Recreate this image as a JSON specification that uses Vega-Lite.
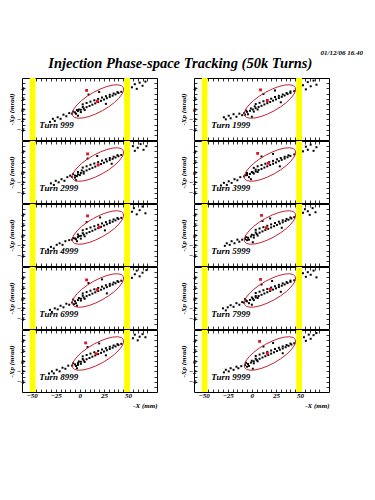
{
"$schema": "https://vega.github.io/schema/vega-lite/v6.json",
"padding": {"left": 6, "top": 48, "right": 0, "bottom": 0},
"background": "white",
"title": {"text": "01/12/06  16.40", "anchor": "end", "dx": 33, "fontSize": 7, "font": "Liberation Serif", "fontStyle": "italic", "fontWeight": "bold", "color": "black", "offset": 0},
"datasets": {
"ap": [{"x1": -52, "x2": -46}, {"x1": 46, "x2": 52}],
"ell": [
{"o":0,"x":45.05,"y":4.16},{"o":1,"x":45.3,"y":3.6},{"o":2,"x":43.74,"y":2.9},{"o":3,"x":40.47,"y":2.1},{"o":4,"x":35.74,"y":1.25},{"o":5,"x":29.84,"y":0.42},{"o":6,"x":23.18,"y":-0.34},{"o":7,"x":16.22,"y":-0.98},{"o":8,"x":9.44,"y":-1.46},{"o":9,"x":3.29,"y":-1.73},{"o":10,"x":-1.81,"y":-1.79},{"o":11,"x":-5.51,"y":-1.63},{"o":12,"x":-7.55,"y":-1.26},{"o":13,"x":-7.81,"y":-0.7},{"o":14,"x":-6.25,"y":0.0},{"o":15,"x":-2.97,"y":0.8},{"o":16,"x":1.76,"y":1.65},{"o":17,"x":7.66,"y":2.48},{"o":18,"x":14.32,"y":3.24},{"o":19,"x":21.28,"y":3.88},{"o":20,"x":28.06,"y":4.36},{"o":21,"x":34.21,"y":4.63},{"o":22,"x":39.31,"y":4.69},{"o":23,"x":43.01,"y":4.53},{"o":24,"x":45.05,"y":4.16}
],
"red": [
{"t":999,"x":18,"y":1.5},{"t":999,"x":7,"y":3.6},
{"t":1999,"x":16,"y":1.6},{"t":1999,"x":9,"y":3.7},
{"t":2999,"x":19,"y":1.4},{"t":2999,"x":8,"y":3.5},
{"t":3999,"x":17,"y":1.7},{"t":3999,"x":6,"y":3.6},
{"t":4999,"x":20,"y":1.5},{"t":4999,"x":8,"y":3.7},
{"t":5999,"x":15,"y":1.4},{"t":5999,"x":10,"y":3.8},
{"t":6999,"x":18,"y":1.6},{"t":6999,"x":7,"y":3.5},
{"t":7999,"x":19,"y":1.7},{"t":7999,"x":9,"y":3.6},
{"t":8999,"x":17,"y":1.4},{"t":8999,"x":6,"y":3.5},
{"t":9999,"x":16,"y":1.5},{"t":9999,"x":8,"y":3.8}
],
"pts": [
{"t":999,"x":-31,"y":-2.5},{"t":999,"x":-28,"y":-1.9},{"t":999,"x":-26,"y":-2.3},{"t":999,"x":-23,"y":-1.6},{"t":999,"x":-20,"y":-1.9},{"t":999,"x":-17,"y":-1.1},{"t":999,"x":-14,"y":-1.4},{"t":999,"x":-11,"y":-0.8},
{"t":999,"x":-8,"y":-0.9},{"t":999,"x":-5,"y":-0.65},{"t":999,"x":-2,"y":-0.4},{"t":999,"x":1,"y":-0.15},{"t":999,"x":4,"y":0.1},{"t":999,"x":7,"y":0.35},{"t":999,"x":10,"y":0.59},{"t":999,"x":13,"y":0.84},{"t":999,"x":16,"y":1.09},{"t":999,"x":19,"y":1.34},{"t":999,"x":22,"y":1.59},{"t":999,"x":25,"y":1.84},{"t":999,"x":28,"y":2.09},{"t":999,"x":31,"y":2.34},{"t":999,"x":34,"y":2.59},{"t":999,"x":37,"y":2.84},{"t":999,"x":40,"y":3.09},{"t":999,"x":43,"y":3.33},
{"t":999,"x":-7,"y":-0.5},{"t":999,"x":-4,"y":-0.9},{"t":999,"x":-1,"y":-0.1},{"t":999,"x":1,"y":-0.6},{"t":999,"x":3,"y":0.4},{"t":999,"x":5,"y":-0.2},{"t":999,"x":-3,"y":-0.2},
{"t":999,"x":3,"y":0.9},{"t":999,"x":7,"y":1.16},{"t":999,"x":11,"y":1.43},{"t":999,"x":15,"y":1.69},{"t":999,"x":19,"y":1.95},{"t":999,"x":23,"y":2.22},{"t":999,"x":27,"y":2.48},{"t":999,"x":31,"y":2.75},{"t":999,"x":35,"y":3.0},{"t":999,"x":39,"y":3.27},
{"t":999,"x":54,"y":4.2},{"t":999,"x":57,"y":4.8},{"t":999,"x":59,"y":3.9},{"t":999,"x":62,"y":5.1},{"t":999,"x":65,"y":4.5},{"t":999,"x":68,"y":5.3},
{"t":999,"x":9,"y":2.8},{"t":999,"x":27,"y":1.0},{"t":999,"x":20,"y":3.3},{"t":999,"x":-2,"y":-1.3},

{"t":1999,"x":-29,"y":-1.6},{"t":1999,"x":-27,"y":-2.0},{"t":1999,"x":-24,"y":-1.3},{"t":1999,"x":-22,"y":-1.8},{"t":1999,"x":-19,"y":-1.0},{"t":1999,"x":-16,"y":-1.5},{"t":1999,"x":-13,"y":-0.9},{"t":1999,"x":-10,"y":-1.2},
{"t":1999,"x":-8,"y":-0.8},{"t":1999,"x":-5,"y":-0.55},{"t":1999,"x":-2,"y":-0.35},{"t":1999,"x":1,"y":-0.1},{"t":1999,"x":4,"y":0.15},{"t":1999,"x":7,"y":0.4},{"t":1999,"x":10,"y":0.62},{"t":1999,"x":13,"y":0.88},{"t":1999,"x":16,"y":1.12},{"t":1999,"x":19,"y":1.36},{"t":1999,"x":22,"y":1.62},{"t":1999,"x":25,"y":1.86},{"t":1999,"x":28,"y":2.12},{"t":1999,"x":31,"y":2.36},{"t":1999,"x":34,"y":2.62},{"t":1999,"x":37,"y":2.88},{"t":1999,"x":40,"y":3.12},{"t":1999,"x":44,"y":3.45},
{"t":1999,"x":-6,"y":-0.3},{"t":1999,"x":-4,"y":-1.0},{"t":1999,"x":-1,"y":0.1},{"t":1999,"x":2,"y":-0.5},{"t":1999,"x":3,"y":0.5},{"t":1999,"x":6,"y":-0.1},{"t":1999,"x":-7,"y":-1.1},
{"t":1999,"x":4,"y":0.95},{"t":1999,"x":8,"y":1.2},{"t":1999,"x":12,"y":1.5},{"t":1999,"x":16,"y":1.75},{"t":1999,"x":20,"y":2.0},{"t":1999,"x":24,"y":2.3},{"t":1999,"x":28,"y":2.55},{"t":1999,"x":32,"y":2.8},{"t":1999,"x":36,"y":3.1},{"t":1999,"x":40,"y":3.4},
{"t":1999,"x":53,"y":4.6},{"t":1999,"x":56,"y":3.8},{"t":1999,"x":58,"y":5.2},{"t":1999,"x":61,"y":4.4},{"t":1999,"x":64,"y":5.5},{"t":1999,"x":67,"y":4.7},
{"t":1999,"x":12,"y":2.9},{"t":1999,"x":30,"y":1.3},{"t":1999,"x":24,"y":3.6},{"t":1999,"x":0,"y":-1.5},

{"t":2999,"x":-30,"y":-2.2},{"t":2999,"x":-27,"y":-2.5},{"t":2999,"x":-25,"y":-1.7},{"t":2999,"x":-22,"y":-2.0},{"t":2999,"x":-19,"y":-1.4},{"t":2999,"x":-16,"y":-1.7},{"t":2999,"x":-13,"y":-1.0},{"t":2999,"x":-10,"y":-0.7},
{"t":2999,"x":-8,"y":-0.95},{"t":2999,"x":-5,"y":-0.7},{"t":2999,"x":-2,"y":-0.45},{"t":2999,"x":1,"y":-0.2},{"t":2999,"x":4,"y":0.05},{"t":2999,"x":7,"y":0.3},{"t":2999,"x":10,"y":0.55},{"t":2999,"x":13,"y":0.8},{"t":2999,"x":16,"y":1.05},{"t":2999,"x":19,"y":1.3},{"t":2999,"x":22,"y":1.55},{"t":2999,"x":25,"y":1.8},{"t":2999,"x":28,"y":2.05},{"t":2999,"x":31,"y":2.3},{"t":2999,"x":34,"y":2.55},{"t":2999,"x":37,"y":2.8},{"t":2999,"x":40,"y":3.05},{"t":2999,"x":43,"y":3.3},
{"t":2999,"x":-7,"y":-0.4},{"t":2999,"x":-5,"y":-1.1},{"t":2999,"x":-2,"y":0.0},{"t":2999,"x":0,"y":-0.6},{"t":2999,"x":2,"y":0.3},{"t":2999,"x":4,"y":-0.3},{"t":2999,"x":-3,"y":-0.8},
{"t":2999,"x":3,"y":0.85},{"t":2999,"x":7,"y":1.1},{"t":2999,"x":11,"y":1.4},{"t":2999,"x":15,"y":1.65},{"t":2999,"x":19,"y":1.9},{"t":2999,"x":23,"y":2.2},{"t":2999,"x":27,"y":2.45},{"t":2999,"x":31,"y":2.7},{"t":2999,"x":35,"y":2.95},{"t":2999,"x":39,"y":3.25},
{"t":2999,"x":55,"y":5.0},{"t":2999,"x":57,"y":4.1},{"t":2999,"x":60,"y":4.7},{"t":2999,"x":63,"y":5.4},{"t":2999,"x":66,"y":4.3},{"t":2999,"x":69,"y":5.0},
{"t":2999,"x":8,"y":2.6},{"t":2999,"x":33,"y":1.6},{"t":2999,"x":18,"y":3.1},{"t":2999,"x":-4,"y":-1.6},

{"t":3999,"x":-32,"y":-2.6},{"t":3999,"x":-29,"y":-2.1},{"t":3999,"x":-26,"y":-2.5},{"t":3999,"x":-24,"y":-1.8},{"t":3999,"x":-21,"y":-2.1},{"t":3999,"x":-18,"y":-1.4},{"t":3999,"x":-15,"y":-1.6},{"t":3999,"x":-12,"y":-1.0},
{"t":3999,"x":-8,"y":-0.85},{"t":3999,"x":-5,"y":-0.6},{"t":3999,"x":-2,"y":-0.38},{"t":3999,"x":1,"y":-0.12},{"t":3999,"x":4,"y":0.12},{"t":3999,"x":7,"y":0.38},{"t":3999,"x":10,"y":0.6},{"t":3999,"x":13,"y":0.86},{"t":3999,"x":16,"y":1.1},{"t":3999,"x":19,"y":1.36},{"t":3999,"x":22,"y":1.6},{"t":3999,"x":25,"y":1.85},{"t":3999,"x":28,"y":2.1},{"t":3999,"x":31,"y":2.35},{"t":3999,"x":34,"y":2.6},{"t":3999,"x":37,"y":2.86},{"t":3999,"x":40,"y":3.1},{"t":3999,"x":44,"y":3.4},
{"t":3999,"x":-6,"y":-0.6},{"t":3999,"x":-3,"y":-1.0},{"t":3999,"x":0,"y":0.0},{"t":3999,"x":2,"y":-0.3},{"t":3999,"x":4,"y":0.45},{"t":3999,"x":6,"y":0.0},{"t":3999,"x":-5,"y":-0.2},
{"t":3999,"x":2,"y":0.8},{"t":3999,"x":6,"y":1.1},{"t":3999,"x":10,"y":1.35},{"t":3999,"x":14,"y":1.6},{"t":3999,"x":18,"y":1.9},{"t":3999,"x":22,"y":2.15},{"t":3999,"x":26,"y":2.45},{"t":3999,"x":30,"y":2.7},{"t":3999,"x":34,"y":2.95},{"t":3999,"x":38,"y":3.25},
{"t":3999,"x":53,"y":4.0},{"t":3999,"x":56,"y":4.9},{"t":3999,"x":58,"y":4.3},{"t":3999,"x":61,"y":5.3},{"t":3999,"x":64,"y":4.1},{"t":3999,"x":67,"y":4.8},
{"t":3999,"x":10,"y":3.0},{"t":3999,"x":29,"y":1.1},{"t":3999,"x":22,"y":3.5},{"t":3999,"x":-1,"y":-1.4},

{"t":4999,"x":-33,"y":-2.8},{"t":4999,"x":-30,"y":-2.3},{"t":4999,"x":-27,"y":-2.6},{"t":4999,"x":-24,"y":-1.9},{"t":4999,"x":-21,"y":-1.6},{"t":4999,"x":-18,"y":-1.9},{"t":4999,"x":-15,"y":-1.2},{"t":4999,"x":-11,"y":-1.0},
{"t":4999,"x":-8,"y":-0.92},{"t":4999,"x":-5,"y":-0.66},{"t":4999,"x":-2,"y":-0.42},{"t":4999,"x":1,"y":-0.16},{"t":4999,"x":4,"y":0.08},{"t":4999,"x":7,"y":0.34},{"t":4999,"x":10,"y":0.58},{"t":4999,"x":13,"y":0.83},{"t":4999,"x":16,"y":1.08},{"t":4999,"x":19,"y":1.33},{"t":4999,"x":22,"y":1.58},{"t":4999,"x":25,"y":1.83},{"t":4999,"x":28,"y":2.08},{"t":4999,"x":31,"y":2.33},{"t":4999,"x":34,"y":2.58},{"t":4999,"x":37,"y":2.83},{"t":4999,"x":40,"y":3.08},{"t":4999,"x":43,"y":3.32},
{"t":4999,"x":-7,"y":-0.6},{"t":4999,"x":-4,"y":-0.8},{"t":4999,"x":-1,"y":-0.2},{"t":4999,"x":1,"y":-0.7},{"t":4999,"x":3,"y":0.35},{"t":4999,"x":5,"y":-0.25},{"t":4999,"x":-2,"y":0.1},
{"t":4999,"x":3,"y":0.92},{"t":4999,"x":7,"y":1.18},{"t":4999,"x":11,"y":1.45},{"t":4999,"x":15,"y":1.7},{"t":4999,"x":19,"y":1.97},{"t":4999,"x":23,"y":2.24},{"t":4999,"x":27,"y":2.5},{"t":4999,"x":31,"y":2.77},{"t":4999,"x":35,"y":3.02},{"t":4999,"x":39,"y":3.3},
{"t":4999,"x":54,"y":4.5},{"t":4999,"x":56,"y":5.2},{"t":4999,"x":59,"y":4.0},{"t":4999,"x":62,"y":4.8},{"t":4999,"x":65,"y":5.5},{"t":4999,"x":68,"y":4.2},
{"t":4999,"x":7,"y":2.5},{"t":4999,"x":26,"y":0.9},{"t":4999,"x":21,"y":3.4},{"t":4999,"x":-3,"y":-1.2},

{"t":5999,"x":-28,"y":-2.1},{"t":5999,"x":-26,"y":-1.6},{"t":5999,"x":-23,"y":-1.9},{"t":5999,"x":-21,"y":-1.2},{"t":5999,"x":-18,"y":-1.6},{"t":5999,"x":-15,"y":-0.9},{"t":5999,"x":-13,"y":-1.3},{"t":5999,"x":-10,"y":-0.9},
{"t":5999,"x":-7,"y":-0.8},{"t":5999,"x":-4,"y":-0.55},{"t":5999,"x":-1,"y":-0.3},{"t":5999,"x":2,"y":-0.05},{"t":5999,"x":5,"y":0.2},{"t":5999,"x":8,"y":0.45},{"t":5999,"x":11,"y":0.7},{"t":5999,"x":14,"y":0.95},{"t":5999,"x":17,"y":1.2},{"t":5999,"x":20,"y":1.45},{"t":5999,"x":23,"y":1.7},{"t":5999,"x":26,"y":1.95},{"t":5999,"x":29,"y":2.2},{"t":5999,"x":32,"y":2.45},{"t":5999,"x":35,"y":2.7},{"t":5999,"x":38,"y":2.95},{"t":5999,"x":41,"y":3.2},{"t":5999,"x":44,"y":3.45},
{"t":5999,"x":-6,"y":-0.4},{"t":5999,"x":-3,"y":-0.9},{"t":5999,"x":0,"y":0.05},{"t":5999,"x":2,"y":-0.5},{"t":5999,"x":4,"y":0.5},{"t":5999,"x":6,"y":-0.1},{"t":5999,"x":-5,"y":-1.0},
{"t":5999,"x":4,"y":1.0},{"t":5999,"x":8,"y":1.25},{"t":5999,"x":12,"y":1.52},{"t":5999,"x":16,"y":1.78},{"t":5999,"x":20,"y":2.05},{"t":5999,"x":24,"y":2.3},{"t":5999,"x":28,"y":2.58},{"t":5999,"x":32,"y":2.85},{"t":5999,"x":36,"y":3.1},{"t":5999,"x":40,"y":3.38},
{"t":5999,"x":53,"y":4.3},{"t":5999,"x":55,"y":5.0},{"t":5999,"x":58,"y":4.6},{"t":5999,"x":60,"y":3.9},{"t":5999,"x":63,"y":5.2},{"t":5999,"x":66,"y":4.4},
{"t":5999,"x":11,"y":2.7},{"t":5999,"x":31,"y":1.4},{"t":5999,"x":19,"y":3.2},{"t":5999,"x":1,"y":-1.4},

{"t":6999,"x":-31,"y":-2.3},{"t":6999,"x":-29,"y":-2.7},{"t":6999,"x":-26,"y":-2.0},{"t":6999,"x":-23,"y":-2.2},{"t":6999,"x":-20,"y":-1.5},{"t":6999,"x":-17,"y":-1.8},{"t":6999,"x":-14,"y":-1.1},{"t":6999,"x":-11,"y":-1.3},
{"t":6999,"x":-8,"y":-0.88},{"t":6999,"x":-5,"y":-0.63},{"t":6999,"x":-2,"y":-0.4},{"t":6999,"x":1,"y":-0.14},{"t":6999,"x":4,"y":0.1},{"t":6999,"x":7,"y":0.36},{"t":6999,"x":10,"y":0.6},{"t":6999,"x":13,"y":0.85},{"t":6999,"x":16,"y":1.1},{"t":6999,"x":19,"y":1.35},{"t":6999,"x":22,"y":1.6},{"t":6999,"x":25,"y":1.85},{"t":6999,"x":28,"y":2.1},{"t":6999,"x":31,"y":2.35},{"t":6999,"x":34,"y":2.6},{"t":6999,"x":37,"y":2.85},{"t":6999,"x":40,"y":3.1},{"t":6999,"x":43,"y":3.35},
{"t":6999,"x":-7,"y":-0.3},{"t":6999,"x":-4,"y":-1.0},{"t":6999,"x":-1,"y":0.0},{"t":6999,"x":1,"y":-0.5},{"t":6999,"x":3,"y":0.45},{"t":6999,"x":5,"y":-0.15},{"t":6999,"x":-6,"y":-1.2},
{"t":6999,"x":3,"y":0.88},{"t":6999,"x":7,"y":1.15},{"t":6999,"x":11,"y":1.42},{"t":6999,"x":15,"y":1.68},{"t":6999,"x":19,"y":1.94},{"t":6999,"x":23,"y":2.2},{"t":6999,"x":27,"y":2.47},{"t":6999,"x":31,"y":2.74},{"t":6999,"x":35,"y":3.0},{"t":6999,"x":39,"y":3.28},
{"t":6999,"x":54,"y":3.9},{"t":6999,"x":57,"y":4.6},{"t":6999,"x":59,"y":5.3},{"t":6999,"x":62,"y":4.2},{"t":6999,"x":65,"y":4.9},{"t":6999,"x":69,"y":5.4},
{"t":6999,"x":9,"y":2.9},{"t":6999,"x":28,"y":0.9},{"t":6999,"x":23,"y":3.6},{"t":6999,"x":-3,"y":-1.5},

{"t":7999,"x":-30,"y":-2.0},{"t":7999,"x":-27,"y":-2.4},{"t":7999,"x":-25,"y":-1.8},{"t":7999,"x":-22,"y":-1.4},{"t":7999,"x":-19,"y":-1.7},{"t":7999,"x":-16,"y":-1.0},{"t":7999,"x":-13,"y":-1.3},{"t":7999,"x":-10,"y":-0.8},
{"t":7999,"x":-8,"y":-0.9},{"t":7999,"x":-5,"y":-0.64},{"t":7999,"x":-2,"y":-0.38},{"t":7999,"x":1,"y":-0.13},{"t":7999,"x":4,"y":0.12},{"t":7999,"x":7,"y":0.37},{"t":7999,"x":10,"y":0.62},{"t":7999,"x":13,"y":0.87},{"t":7999,"x":16,"y":1.12},{"t":7999,"x":19,"y":1.37},{"t":7999,"x":22,"y":1.62},{"t":7999,"x":25,"y":1.87},{"t":7999,"x":28,"y":2.12},{"t":7999,"x":31,"y":2.37},{"t":7999,"x":34,"y":2.62},{"t":7999,"x":37,"y":2.87},{"t":7999,"x":40,"y":3.12},{"t":7999,"x":44,"y":3.42},
{"t":7999,"x":-6,"y":-0.5},{"t":7999,"x":-3,"y":-1.0},{"t":7999,"x":0,"y":0.1},{"t":7999,"x":2,"y":-0.4},{"t":7999,"x":4,"y":0.4},{"t":7999,"x":6,"y":0.0},{"t":7999,"x":-7,"y":-0.2},
{"t":7999,"x":4,"y":0.97},{"t":7999,"x":8,"y":1.22},{"t":7999,"x":12,"y":1.5},{"t":7999,"x":16,"y":1.76},{"t":7999,"x":20,"y":2.02},{"t":7999,"x":24,"y":2.28},{"t":7999,"x":28,"y":2.55},{"t":7999,"x":32,"y":2.82},{"t":7999,"x":36,"y":3.08},{"t":7999,"x":40,"y":3.36},
{"t":7999,"x":53,"y":4.8},{"t":7999,"x":56,"y":4.1},{"t":7999,"x":58,"y":5.0},{"t":7999,"x":61,"y":4.5},{"t":7999,"x":64,"y":5.3},{"t":7999,"x":67,"y":4.0},
{"t":7999,"x":10,"y":2.6},{"t":7999,"x":30,"y":1.2},{"t":7999,"x":21,"y":3.3},{"t":7999,"x":0,"y":-1.3},

{"t":8999,"x":-32,"y":-2.4},{"t":8999,"x":-29,"y":-2.0},{"t":8999,"x":-27,"y":-2.4},{"t":8999,"x":-24,"y":-1.7},{"t":8999,"x":-21,"y":-2.0},{"t":8999,"x":-18,"y":-1.3},{"t":8999,"x":-15,"y":-1.5},{"t":8999,"x":-12,"y":-0.9},
{"t":8999,"x":-8,"y":-0.9},{"t":8999,"x":-5,"y":-0.66},{"t":8999,"x":-2,"y":-0.41},{"t":8999,"x":1,"y":-0.15},{"t":8999,"x":4,"y":0.09},{"t":8999,"x":7,"y":0.34},{"t":8999,"x":10,"y":0.58},{"t":8999,"x":13,"y":0.84},{"t":8999,"x":16,"y":1.08},{"t":8999,"x":19,"y":1.33},{"t":8999,"x":22,"y":1.58},{"t":8999,"x":25,"y":1.83},{"t":8999,"x":28,"y":2.08},{"t":8999,"x":31,"y":2.33},{"t":8999,"x":34,"y":2.58},{"t":8999,"x":37,"y":2.83},{"t":8999,"x":40,"y":3.08},{"t":8999,"x":43,"y":3.32},
{"t":8999,"x":-7,"y":-0.45},{"t":8999,"x":-4,"y":-0.95},{"t":8999,"x":-1,"y":-0.1},{"t":8999,"x":1,"y":-0.55},{"t":8999,"x":3,"y":0.38},{"t":8999,"x":5,"y":-0.2},{"t":8999,"x":-2,"y":-0.75},
{"t":8999,"x":3,"y":0.9},{"t":8999,"x":7,"y":1.16},{"t":8999,"x":11,"y":1.43},{"t":8999,"x":15,"y":1.69},{"t":8999,"x":19,"y":1.95},{"t":8999,"x":23,"y":2.22},{"t":8999,"x":27,"y":2.48},{"t":8999,"x":31,"y":2.75},{"t":8999,"x":35,"y":3.0},{"t":8999,"x":39,"y":3.27},
{"t":8999,"x":55,"y":4.4},{"t":8999,"x":57,"y":5.1},{"t":8999,"x":60,"y":4.0},{"t":8999,"x":62,"y":4.7},{"t":8999,"x":65,"y":5.2},{"t":8999,"x":68,"y":4.6},
{"t":8999,"x":8,"y":2.7},{"t":8999,"x":27,"y":1.1},{"t":8999,"x":20,"y":3.4},{"t":8999,"x":-3,"y":-1.4},

{"t":9999,"x":-29,"y":-2.2},{"t":9999,"x":-27,"y":-1.7},{"t":9999,"x":-24,"y":-2.0},{"t":9999,"x":-22,"y":-1.4},{"t":9999,"x":-19,"y":-1.7},{"t":9999,"x":-16,"y":-1.1},{"t":9999,"x":-14,"y":-1.4},{"t":9999,"x":-11,"y":-1.0},
{"t":9999,"x":-7,"y":-0.82},{"t":9999,"x":-4,"y":-0.57},{"t":9999,"x":-1,"y":-0.32},{"t":9999,"x":2,"y":-0.07},{"t":9999,"x":5,"y":0.18},{"t":9999,"x":8,"y":0.43},{"t":9999,"x":11,"y":0.68},{"t":9999,"x":14,"y":0.93},{"t":9999,"x":17,"y":1.18},{"t":9999,"x":20,"y":1.43},{"t":9999,"x":23,"y":1.68},{"t":9999,"x":26,"y":1.93},{"t":9999,"x":29,"y":2.18},{"t":9999,"x":32,"y":2.43},{"t":9999,"x":35,"y":2.68},{"t":9999,"x":38,"y":2.93},{"t":9999,"x":41,"y":3.18},{"t":9999,"x":44,"y":3.43},
{"t":9999,"x":-6,"y":-0.35},{"t":9999,"x":-3,"y":-0.95},{"t":9999,"x":0,"y":0.05},{"t":9999,"x":2,"y":-0.45},{"t":9999,"x":4,"y":0.45},{"t":9999,"x":6,"y":-0.05},{"t":9999,"x":-5,"y":-1.1},
{"t":9999,"x":4,"y":0.98},{"t":9999,"x":8,"y":1.24},{"t":9999,"x":12,"y":1.5},{"t":9999,"x":16,"y":1.77},{"t":9999,"x":20,"y":2.03},{"t":9999,"x":24,"y":2.3},{"t":9999,"x":28,"y":2.56},{"t":9999,"x":32,"y":2.83},{"t":9999,"x":36,"y":3.1},{"t":9999,"x":40,"y":3.37},
{"t":9999,"x":54,"y":4.6},{"t":9999,"x":56,"y":3.9},{"t":9999,"x":59,"y":5.1},{"t":9999,"x":61,"y":4.3},{"t":9999,"x":64,"y":5.0},{"t":9999,"x":67,"y":5.4},
{"t":9999,"x":12,"y":2.8},{"t":9999,"x":32,"y":1.5},{"t":9999,"x":22,"y":3.5},{"t":9999,"x":1,"y":-1.5}
]
},
"vconcat": [{
"title": {"text": "Injection Phase-space Tracking (50k Turns)", "anchor": "middle", "dx": 12, "fontSize": 14.5, "font": "Liberation Serif", "fontStyle": "italic", "fontWeight": "bold", "color": "black", "offset": 6},
"spacing": 20,
"hconcat": [
{"spacing": -2, "vconcat": [
{"width":135,"height":62,"resolve":{"axis":{"x":"independent","y":"independent"}},"layer":[
{"data":{"name":"ap"},"mark":{"type":"rect","color":"#ffff00"},"encoding":{"x":{"field":"x1","type":"quantitative","scale":{"domain":[-52,72]},"axis":null},"x2":{"field":"x2"}}},
{"data":{"name":"pts"},"transform":[{"filter":"datum.t == 999"}],"mark":{"type":"square","size":4,"color":"black","opacity":1},"encoding":{"x":{"field":"x","type":"quantitative","scale":{"domain":[-52,72]},"axis":{"orient":"bottom","values":[-50,-45,-40,-35,-30,-25,-20,-15,-10,-5,0,5,10,15,20,25,30,35,40,45,50,55,60,65,70],"labels":false,"title":null,"maxExtent":0}},"y":{"field":"y","type":"quantitative","scale":{"domain":[-5.3,6]},"axis":{"orient":"left","values":[-4,-3,-2,-1,0,1,2,3,4,5],"labelExpr":"datum.value % 2 == 0 && datum.value < 5 ? datum.label : ''","labelPadding":1,"title":"-Xp (mrad)","titlePadding":2}}}},
{"data":{"name":"ell"},"mark":{"type":"line","color":"#c8202e","strokeWidth":1},"encoding":{"x":{"field":"x","type":"quantitative","axis":{"orient":"top","values":[-50,-45,-40,-35,-30,-25,-20,-15,-10,-5,0,5,10,15,20,25,30,35,40,45,50,55,60,65,70],"labels":false,"title":null,"maxExtent":0}},"y":{"field":"y","type":"quantitative","axis":{"orient":"right","values":[-5,-4,-3,-2,-1,0,1,2,3,4,5,6],"labels":false,"title":null,"maxExtent":0}},"order":{"field":"o"}}},
{"data":{"name":"red"},"transform":[{"filter":"datum.t == 999"}],"mark":{"type":"square","size":8,"color":"#e8101e","opacity":1},"encoding":{"x":{"field":"x","type":"quantitative","axis":null},"y":{"field":"y","type":"quantitative","axis":null}}},
{"data":{"values":[{"label":"Turn 999"}]},"mark":{"type":"text","align":"left","baseline":"middle","font":"Liberation Serif","fontStyle":"italic","fontWeight":"bold","fontSize":9,"color":"black"},"encoding":{"x":{"datum":-42,"type":"quantitative","axis":null},"y":{"datum":-3.1,"type":"quantitative","axis":null},"text":{"field":"label"}}}
]},
{"width":135,"height":62,"resolve":{"axis":{"x":"independent","y":"independent"}},"layer":[
{"data":{"name":"ap"},"mark":{"type":"rect","color":"#ffff00"},"encoding":{"x":{"field":"x1","type":"quantitative","scale":{"domain":[-52,72]},"axis":null},"x2":{"field":"x2"}}},
{"data":{"name":"pts"},"transform":[{"filter":"datum.t == 2999"}],"mark":{"type":"square","size":4,"color":"black","opacity":1},"encoding":{"x":{"field":"x","type":"quantitative","scale":{"domain":[-52,72]},"axis":{"orient":"bottom","values":[-50,-45,-40,-35,-30,-25,-20,-15,-10,-5,0,5,10,15,20,25,30,35,40,45,50,55,60,65,70],"labels":false,"title":null,"maxExtent":0}},"y":{"field":"y","type":"quantitative","scale":{"domain":[-5.3,6]},"axis":{"orient":"left","values":[-4,-3,-2,-1,0,1,2,3,4,5],"labelExpr":"datum.value % 2 == 0 && datum.value < 5 ? datum.label : ''","labelPadding":1,"title":"-Xp (mrad)","titlePadding":2}}}},
{"data":{"name":"ell"},"mark":{"type":"line","color":"#c8202e","strokeWidth":1},"encoding":{"x":{"field":"x","type":"quantitative","axis":{"orient":"top","values":[-50,-45,-40,-35,-30,-25,-20,-15,-10,-5,0,5,10,15,20,25,30,35,40,45,50,55,60,65,70],"labels":false,"title":null,"maxExtent":0}},"y":{"field":"y","type":"quantitative","axis":{"orient":"right","values":[-5,-4,-3,-2,-1,0,1,2,3,4,5,6],"labels":false,"title":null,"maxExtent":0}},"order":{"field":"o"}}},
{"data":{"name":"red"},"transform":[{"filter":"datum.t == 2999"}],"mark":{"type":"square","size":8,"color":"#e8101e","opacity":1},"encoding":{"x":{"field":"x","type":"quantitative","axis":null},"y":{"field":"y","type":"quantitative","axis":null}}},
{"data":{"values":[{"label":"Turn 2999"}]},"mark":{"type":"text","align":"left","baseline":"middle","font":"Liberation Serif","fontStyle":"italic","fontWeight":"bold","fontSize":9,"color":"black"},"encoding":{"x":{"datum":-42,"type":"quantitative","axis":null},"y":{"datum":-3.1,"type":"quantitative","axis":null},"text":{"field":"label"}}}
]},
{"width":135,"height":62,"resolve":{"axis":{"x":"independent","y":"independent"}},"layer":[
{"data":{"name":"ap"},"mark":{"type":"rect","color":"#ffff00"},"encoding":{"x":{"field":"x1","type":"quantitative","scale":{"domain":[-52,72]},"axis":null},"x2":{"field":"x2"}}},
{"data":{"name":"pts"},"transform":[{"filter":"datum.t == 4999"}],"mark":{"type":"square","size":4,"color":"black","opacity":1},"encoding":{"x":{"field":"x","type":"quantitative","scale":{"domain":[-52,72]},"axis":{"orient":"bottom","values":[-50,-45,-40,-35,-30,-25,-20,-15,-10,-5,0,5,10,15,20,25,30,35,40,45,50,55,60,65,70],"labels":false,"title":null,"maxExtent":0}},"y":{"field":"y","type":"quantitative","scale":{"domain":[-5.3,6]},"axis":{"orient":"left","values":[-4,-3,-2,-1,0,1,2,3,4,5],"labelExpr":"datum.value % 2 == 0 && datum.value < 5 ? datum.label : ''","labelPadding":1,"title":"-Xp (mrad)","titlePadding":2}}}},
{"data":{"name":"ell"},"mark":{"type":"line","color":"#c8202e","strokeWidth":1},"encoding":{"x":{"field":"x","type":"quantitative","axis":{"orient":"top","values":[-50,-45,-40,-35,-30,-25,-20,-15,-10,-5,0,5,10,15,20,25,30,35,40,45,50,55,60,65,70],"labels":false,"title":null,"maxExtent":0}},"y":{"field":"y","type":"quantitative","axis":{"orient":"right","values":[-5,-4,-3,-2,-1,0,1,2,3,4,5,6],"labels":false,"title":null,"maxExtent":0}},"order":{"field":"o"}}},
{"data":{"name":"red"},"transform":[{"filter":"datum.t == 4999"}],"mark":{"type":"square","size":8,"color":"#e8101e","opacity":1},"encoding":{"x":{"field":"x","type":"quantitative","axis":null},"y":{"field":"y","type":"quantitative","axis":null}}},
{"data":{"values":[{"label":"Turn 4999"}]},"mark":{"type":"text","align":"left","baseline":"middle","font":"Liberation Serif","fontStyle":"italic","fontWeight":"bold","fontSize":9,"color":"black"},"encoding":{"x":{"datum":-42,"type":"quantitative","axis":null},"y":{"datum":-3.1,"type":"quantitative","axis":null},"text":{"field":"label"}}}
]},
{"width":135,"height":62,"resolve":{"axis":{"x":"independent","y":"independent"}},"layer":[
{"data":{"name":"ap"},"mark":{"type":"rect","color":"#ffff00"},"encoding":{"x":{"field":"x1","type":"quantitative","scale":{"domain":[-52,72]},"axis":null},"x2":{"field":"x2"}}},
{"data":{"name":"pts"},"transform":[{"filter":"datum.t == 6999"}],"mark":{"type":"square","size":4,"color":"black","opacity":1},"encoding":{"x":{"field":"x","type":"quantitative","scale":{"domain":[-52,72]},"axis":{"orient":"bottom","values":[-50,-45,-40,-35,-30,-25,-20,-15,-10,-5,0,5,10,15,20,25,30,35,40,45,50,55,60,65,70],"labels":false,"title":null,"maxExtent":0}},"y":{"field":"y","type":"quantitative","scale":{"domain":[-5.3,6]},"axis":{"orient":"left","values":[-4,-3,-2,-1,0,1,2,3,4,5],"labelExpr":"datum.value % 2 == 0 && datum.value < 5 ? datum.label : ''","labelPadding":1,"title":"-Xp (mrad)","titlePadding":2}}}},
{"data":{"name":"ell"},"mark":{"type":"line","color":"#c8202e","strokeWidth":1},"encoding":{"x":{"field":"x","type":"quantitative","axis":{"orient":"top","values":[-50,-45,-40,-35,-30,-25,-20,-15,-10,-5,0,5,10,15,20,25,30,35,40,45,50,55,60,65,70],"labels":false,"title":null,"maxExtent":0}},"y":{"field":"y","type":"quantitative","axis":{"orient":"right","values":[-5,-4,-3,-2,-1,0,1,2,3,4,5,6],"labels":false,"title":null,"maxExtent":0}},"order":{"field":"o"}}},
{"data":{"name":"red"},"transform":[{"filter":"datum.t == 6999"}],"mark":{"type":"square","size":8,"color":"#e8101e","opacity":1},"encoding":{"x":{"field":"x","type":"quantitative","axis":null},"y":{"field":"y","type":"quantitative","axis":null}}},
{"data":{"values":[{"label":"Turn 6999"}]},"mark":{"type":"text","align":"left","baseline":"middle","font":"Liberation Serif","fontStyle":"italic","fontWeight":"bold","fontSize":9,"color":"black"},"encoding":{"x":{"datum":-42,"type":"quantitative","axis":null},"y":{"datum":-3.1,"type":"quantitative","axis":null},"text":{"field":"label"}}}
]},
{"width":135,"height":62,"resolve":{"axis":{"x":"independent","y":"independent"}},"layer":[
{"data":{"name":"ap"},"mark":{"type":"rect","color":"#ffff00"},"encoding":{"x":{"field":"x1","type":"quantitative","scale":{"domain":[-52,72]},"axis":null},"x2":{"field":"x2"}}},
{"data":{"name":"pts"},"transform":[{"filter":"datum.t == 8999"}],"mark":{"type":"square","size":4,"color":"black","opacity":1},"encoding":{"x":{"field":"x","type":"quantitative","scale":{"domain":[-52,72]},"axis":{"orient":"bottom","values":[-50,-45,-40,-35,-30,-25,-20,-15,-10,-5,0,5,10,15,20,25,30,35,40,45,50,55,60,65,70],"labelExpr":"datum.value % 25 == 0 ? datum.label : ''","labelPadding":2,"title":"-X (mm)","titleAnchor":"end","titlePadding":3}},"y":{"field":"y","type":"quantitative","scale":{"domain":[-5.3,6]},"axis":{"orient":"left","values":[-4,-3,-2,-1,0,1,2,3,4,5],"labelExpr":"datum.value % 2 == 0 && datum.value < 5 ? datum.label : ''","labelPadding":1,"title":"-Xp (mrad)","titlePadding":2}}}},
{"data":{"name":"ell"},"mark":{"type":"line","color":"#c8202e","strokeWidth":1},"encoding":{"x":{"field":"x","type":"quantitative","axis":{"orient":"top","values":[-50,-45,-40,-35,-30,-25,-20,-15,-10,-5,0,5,10,15,20,25,30,35,40,45,50,55,60,65,70],"labels":false,"title":null,"maxExtent":0}},"y":{"field":"y","type":"quantitative","axis":{"orient":"right","values":[-5,-4,-3,-2,-1,0,1,2,3,4,5,6],"labels":false,"title":null,"maxExtent":0}},"order":{"field":"o"}}},
{"data":{"name":"red"},"transform":[{"filter":"datum.t == 8999"}],"mark":{"type":"square","size":8,"color":"#e8101e","opacity":1},"encoding":{"x":{"field":"x","type":"quantitative","axis":null},"y":{"field":"y","type":"quantitative","axis":null}}},
{"data":{"values":[{"label":"Turn 8999"}]},"mark":{"type":"text","align":"left","baseline":"middle","font":"Liberation Serif","fontStyle":"italic","fontWeight":"bold","fontSize":9,"color":"black"},"encoding":{"x":{"datum":-42,"type":"quantitative","axis":null},"y":{"datum":-3.1,"type":"quantitative","axis":null},"text":{"field":"label"}}}
]}
]},
{"spacing": -2, "vconcat": [
{"width":135,"height":62,"resolve":{"axis":{"x":"independent","y":"independent"}},"layer":[
{"data":{"name":"ap"},"mark":{"type":"rect","color":"#ffff00"},"encoding":{"x":{"field":"x1","type":"quantitative","scale":{"domain":[-52,72]},"axis":null},"x2":{"field":"x2"}}},
{"data":{"name":"pts"},"transform":[{"filter":"datum.t == 1999"}],"mark":{"type":"square","size":4,"color":"black","opacity":1},"encoding":{"x":{"field":"x","type":"quantitative","scale":{"domain":[-52,72]},"axis":{"orient":"bottom","values":[-50,-45,-40,-35,-30,-25,-20,-15,-10,-5,0,5,10,15,20,25,30,35,40,45,50,55,60,65,70],"labels":false,"title":null,"maxExtent":0}},"y":{"field":"y","type":"quantitative","scale":{"domain":[-5.3,6]},"axis":{"orient":"left","values":[-4,-3,-2,-1,0,1,2,3,4,5],"labelExpr":"datum.value % 2 == 0 && datum.value < 5 ? datum.label : ''","labelPadding":1,"title":"-Xp (mrad)","titlePadding":2}}}},
{"data":{"name":"ell"},"mark":{"type":"line","color":"#c8202e","strokeWidth":1},"encoding":{"x":{"field":"x","type":"quantitative","axis":{"orient":"top","values":[-50,-45,-40,-35,-30,-25,-20,-15,-10,-5,0,5,10,15,20,25,30,35,40,45,50,55,60,65,70],"labels":false,"title":null,"maxExtent":0}},"y":{"field":"y","type":"quantitative","axis":{"orient":"right","values":[-5,-4,-3,-2,-1,0,1,2,3,4,5,6],"labels":false,"title":null,"maxExtent":0}},"order":{"field":"o"}}},
{"data":{"name":"red"},"transform":[{"filter":"datum.t == 1999"}],"mark":{"type":"square","size":8,"color":"#e8101e","opacity":1},"encoding":{"x":{"field":"x","type":"quantitative","axis":null},"y":{"field":"y","type":"quantitative","axis":null}}},
{"data":{"values":[{"label":"Turn 1999"}]},"mark":{"type":"text","align":"left","baseline":"middle","font":"Liberation Serif","fontStyle":"italic","fontWeight":"bold","fontSize":9,"color":"black"},"encoding":{"x":{"datum":-42,"type":"quantitative","axis":null},"y":{"datum":-3.1,"type":"quantitative","axis":null},"text":{"field":"label"}}}
]},
{"width":135,"height":62,"resolve":{"axis":{"x":"independent","y":"independent"}},"layer":[
{"data":{"name":"ap"},"mark":{"type":"rect","color":"#ffff00"},"encoding":{"x":{"field":"x1","type":"quantitative","scale":{"domain":[-52,72]},"axis":null},"x2":{"field":"x2"}}},
{"data":{"name":"pts"},"transform":[{"filter":"datum.t == 3999"}],"mark":{"type":"square","size":4,"color":"black","opacity":1},"encoding":{"x":{"field":"x","type":"quantitative","scale":{"domain":[-52,72]},"axis":{"orient":"bottom","values":[-50,-45,-40,-35,-30,-25,-20,-15,-10,-5,0,5,10,15,20,25,30,35,40,45,50,55,60,65,70],"labels":false,"title":null,"maxExtent":0}},"y":{"field":"y","type":"quantitative","scale":{"domain":[-5.3,6]},"axis":{"orient":"left","values":[-4,-3,-2,-1,0,1,2,3,4,5],"labelExpr":"datum.value % 2 == 0 && datum.value < 5 ? datum.label : ''","labelPadding":1,"title":"-Xp (mrad)","titlePadding":2}}}},
{"data":{"name":"ell"},"mark":{"type":"line","color":"#c8202e","strokeWidth":1},"encoding":{"x":{"field":"x","type":"quantitative","axis":{"orient":"top","values":[-50,-45,-40,-35,-30,-25,-20,-15,-10,-5,0,5,10,15,20,25,30,35,40,45,50,55,60,65,70],"labels":false,"title":null,"maxExtent":0}},"y":{"field":"y","type":"quantitative","axis":{"orient":"right","values":[-5,-4,-3,-2,-1,0,1,2,3,4,5,6],"labels":false,"title":null,"maxExtent":0}},"order":{"field":"o"}}},
{"data":{"name":"red"},"transform":[{"filter":"datum.t == 3999"}],"mark":{"type":"square","size":8,"color":"#e8101e","opacity":1},"encoding":{"x":{"field":"x","type":"quantitative","axis":null},"y":{"field":"y","type":"quantitative","axis":null}}},
{"data":{"values":[{"label":"Turn 3999"}]},"mark":{"type":"text","align":"left","baseline":"middle","font":"Liberation Serif","fontStyle":"italic","fontWeight":"bold","fontSize":9,"color":"black"},"encoding":{"x":{"datum":-42,"type":"quantitative","axis":null},"y":{"datum":-3.1,"type":"quantitative","axis":null},"text":{"field":"label"}}}
]},
{"width":135,"height":62,"resolve":{"axis":{"x":"independent","y":"independent"}},"layer":[
{"data":{"name":"ap"},"mark":{"type":"rect","color":"#ffff00"},"encoding":{"x":{"field":"x1","type":"quantitative","scale":{"domain":[-52,72]},"axis":null},"x2":{"field":"x2"}}},
{"data":{"name":"pts"},"transform":[{"filter":"datum.t == 5999"}],"mark":{"type":"square","size":4,"color":"black","opacity":1},"encoding":{"x":{"field":"x","type":"quantitative","scale":{"domain":[-52,72]},"axis":{"orient":"bottom","values":[-50,-45,-40,-35,-30,-25,-20,-15,-10,-5,0,5,10,15,20,25,30,35,40,45,50,55,60,65,70],"labels":false,"title":null,"maxExtent":0}},"y":{"field":"y","type":"quantitative","scale":{"domain":[-5.3,6]},"axis":{"orient":"left","values":[-4,-3,-2,-1,0,1,2,3,4,5],"labelExpr":"datum.value % 2 == 0 && datum.value < 5 ? datum.label : ''","labelPadding":1,"title":"-Xp (mrad)","titlePadding":2}}}},
{"data":{"name":"ell"},"mark":{"type":"line","color":"#c8202e","strokeWidth":1},"encoding":{"x":{"field":"x","type":"quantitative","axis":{"orient":"top","values":[-50,-45,-40,-35,-30,-25,-20,-15,-10,-5,0,5,10,15,20,25,30,35,40,45,50,55,60,65,70],"labels":false,"title":null,"maxExtent":0}},"y":{"field":"y","type":"quantitative","axis":{"orient":"right","values":[-5,-4,-3,-2,-1,0,1,2,3,4,5,6],"labels":false,"title":null,"maxExtent":0}},"order":{"field":"o"}}},
{"data":{"name":"red"},"transform":[{"filter":"datum.t == 5999"}],"mark":{"type":"square","size":8,"color":"#e8101e","opacity":1},"encoding":{"x":{"field":"x","type":"quantitative","axis":null},"y":{"field":"y","type":"quantitative","axis":null}}},
{"data":{"values":[{"label":"Turn 5999"}]},"mark":{"type":"text","align":"left","baseline":"middle","font":"Liberation Serif","fontStyle":"italic","fontWeight":"bold","fontSize":9,"color":"black"},"encoding":{"x":{"datum":-42,"type":"quantitative","axis":null},"y":{"datum":-3.1,"type":"quantitative","axis":null},"text":{"field":"label"}}}
]},
{"width":135,"height":62,"resolve":{"axis":{"x":"independent","y":"independent"}},"layer":[
{"data":{"name":"ap"},"mark":{"type":"rect","color":"#ffff00"},"encoding":{"x":{"field":"x1","type":"quantitative","scale":{"domain":[-52,72]},"axis":null},"x2":{"field":"x2"}}},
{"data":{"name":"pts"},"transform":[{"filter":"datum.t == 7999"}],"mark":{"type":"square","size":4,"color":"black","opacity":1},"encoding":{"x":{"field":"x","type":"quantitative","scale":{"domain":[-52,72]},"axis":{"orient":"bottom","values":[-50,-45,-40,-35,-30,-25,-20,-15,-10,-5,0,5,10,15,20,25,30,35,40,45,50,55,60,65,70],"labels":false,"title":null,"maxExtent":0}},"y":{"field":"y","type":"quantitative","scale":{"domain":[-5.3,6]},"axis":{"orient":"left","values":[-4,-3,-2,-1,0,1,2,3,4,5],"labelExpr":"datum.value % 2 == 0 && datum.value < 5 ? datum.label : ''","labelPadding":1,"title":"-Xp (mrad)","titlePadding":2}}}},
{"data":{"name":"ell"},"mark":{"type":"line","color":"#c8202e","strokeWidth":1},"encoding":{"x":{"field":"x","type":"quantitative","axis":{"orient":"top","values":[-50,-45,-40,-35,-30,-25,-20,-15,-10,-5,0,5,10,15,20,25,30,35,40,45,50,55,60,65,70],"labels":false,"title":null,"maxExtent":0}},"y":{"field":"y","type":"quantitative","axis":{"orient":"right","values":[-5,-4,-3,-2,-1,0,1,2,3,4,5,6],"labels":false,"title":null,"maxExtent":0}},"order":{"field":"o"}}},
{"data":{"name":"red"},"transform":[{"filter":"datum.t == 7999"}],"mark":{"type":"square","size":8,"color":"#e8101e","opacity":1},"encoding":{"x":{"field":"x","type":"quantitative","axis":null},"y":{"field":"y","type":"quantitative","axis":null}}},
{"data":{"values":[{"label":"Turn 7999"}]},"mark":{"type":"text","align":"left","baseline":"middle","font":"Liberation Serif","fontStyle":"italic","fontWeight":"bold","fontSize":9,"color":"black"},"encoding":{"x":{"datum":-42,"type":"quantitative","axis":null},"y":{"datum":-3.1,"type":"quantitative","axis":null},"text":{"field":"label"}}}
]},
{"width":135,"height":62,"resolve":{"axis":{"x":"independent","y":"independent"}},"layer":[
{"data":{"name":"ap"},"mark":{"type":"rect","color":"#ffff00"},"encoding":{"x":{"field":"x1","type":"quantitative","scale":{"domain":[-52,72]},"axis":null},"x2":{"field":"x2"}}},
{"data":{"name":"pts"},"transform":[{"filter":"datum.t == 9999"}],"mark":{"type":"square","size":4,"color":"black","opacity":1},"encoding":{"x":{"field":"x","type":"quantitative","scale":{"domain":[-52,72]},"axis":{"orient":"bottom","values":[-50,-45,-40,-35,-30,-25,-20,-15,-10,-5,0,5,10,15,20,25,30,35,40,45,50,55,60,65,70],"labelExpr":"datum.value % 25 == 0 ? datum.label : ''","labelPadding":2,"title":"-X (mm)","titleAnchor":"end","titlePadding":3}},"y":{"field":"y","type":"quantitative","scale":{"domain":[-5.3,6]},"axis":{"orient":"left","values":[-4,-3,-2,-1,0,1,2,3,4,5],"labelExpr":"datum.value % 2 == 0 && datum.value < 5 ? datum.label : ''","labelPadding":1,"title":"-Xp (mrad)","titlePadding":2}}}},
{"data":{"name":"ell"},"mark":{"type":"line","color":"#c8202e","strokeWidth":1},"encoding":{"x":{"field":"x","type":"quantitative","axis":{"orient":"top","values":[-50,-45,-40,-35,-30,-25,-20,-15,-10,-5,0,5,10,15,20,25,30,35,40,45,50,55,60,65,70],"labels":false,"title":null,"maxExtent":0}},"y":{"field":"y","type":"quantitative","axis":{"orient":"right","values":[-5,-4,-3,-2,-1,0,1,2,3,4,5,6],"labels":false,"title":null,"maxExtent":0}},"order":{"field":"o"}}},
{"data":{"name":"red"},"transform":[{"filter":"datum.t == 9999"}],"mark":{"type":"square","size":8,"color":"#e8101e","opacity":1},"encoding":{"x":{"field":"x","type":"quantitative","axis":null},"y":{"field":"y","type":"quantitative","axis":null}}},
{"data":{"values":[{"label":"Turn 9999"}]},"mark":{"type":"text","align":"left","baseline":"middle","font":"Liberation Serif","fontStyle":"italic","fontWeight":"bold","fontSize":9,"color":"black"},"encoding":{"x":{"datum":-42,"type":"quantitative","axis":null},"y":{"datum":-3.1,"type":"quantitative","axis":null},"text":{"field":"label"}}}
]}
]}
]
}],
"config": {
"view": {"stroke": "black", "strokeWidth": 1},
"axis": {"grid": false, "domain": false, "ticks": true, "tickColor": "black", "tickSize": -3, "tickWidth": 0.8, "minExtent": 0, "labelFont": "Liberation Serif", "labelFontStyle": "italic", "labelFontWeight": "bold", "labelFontSize": 7, "labelColor": "black", "labelOverlap": false, "labelFlush": false, "titleFont": "Liberation Serif", "titleFontStyle": "italic", "titleFontWeight": "bold", "titleFontSize": 7, "titleColor": "black"},
"axisY": {"minExtent": 0},
"axisX": {"minExtent": 0}
}
}
